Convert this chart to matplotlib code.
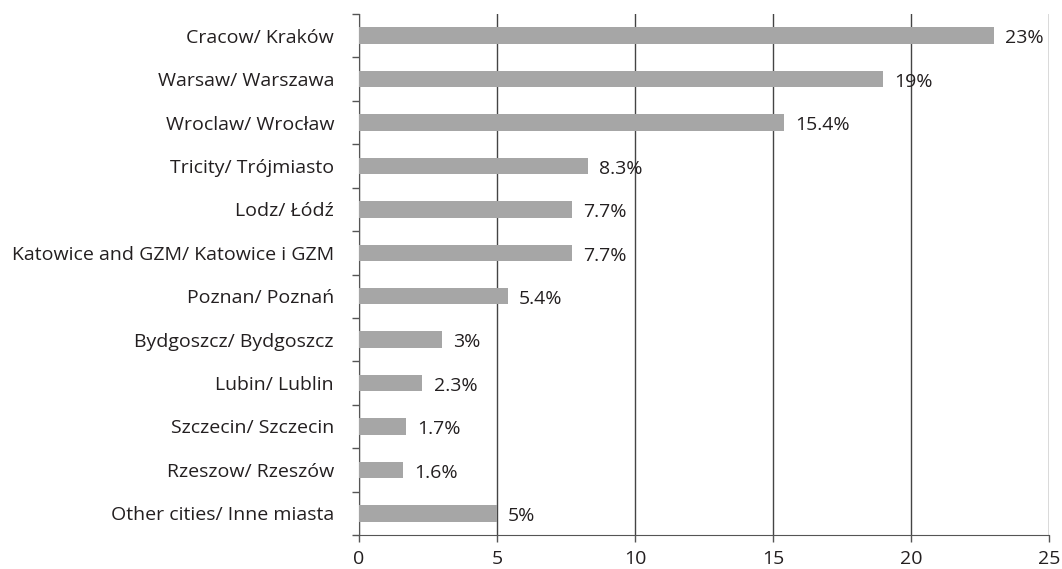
import matplotlib
matplotlib.use("Agg")
import matplotlib.pyplot as plt

categories = ["Cracow/ Kraków", "Warsaw/ Warszawa", "Wroclaw/ Wrocław", "Tricity/ Trójmiasto",
              "Lodz/ Łódź", "Katowice and GZM/ Katowice i GZM", "Poznan/ Poznań",
              "Bydgoszcz/ Bydgoszcz", "Lubin/ Lublin", "Szczecin/ Szczecin",
              "Rzeszow/ Rzeszów", "Other cities/ Inne miasta"]
values = [23, 19, 15.4, 8.3, 7.7, 7.7, 5.4, 3, 2.3, 1.7, 1.6, 5]
labels = ["23%", "19%", "15.4%", "8.3%", "7.7%", "7.7%", "5.4%", "3%", "2.3%", "1.7%", "1.6%", "5%"]
xticks = [0, 5, 10, 15, 20, 25]

plt.rcParams['font.family'] = ['Open Sans', 'DejaVu Sans']

fig = plt.figure(figsize=(10.62, 5.69), dpi=100)
ax = fig.add_axes([359/1062, 1 - 535/569, (1049-359)/1062, (535-14)/569])

fs = 14
n = len(categories)
ys = list(range(n))
ax.barh(ys, values, height=0.38, color="#a6a6a6", zorder=3)
ax.set_ylim(n - 0.5, -0.5)
ax.set_xlim(0, 25)
ax.set_xticks(xticks)
ax.set_yticks(ys)
ax.set_yticklabels(categories)
ax.set_yticks([i + 0.5 for i in range(-1, n)], minor=True)
ax.tick_params(axis='y', which='major', length=0, pad=18, labelsize=fs, colors="#231f20")
ax.tick_params(axis='y', which='minor', length=5, width=1, color="#555555", direction='out')
ax.tick_params(axis='x', length=5, width=1, color="#555555", labelsize=fs, labelcolor="#231f20", pad=6)
ax.grid(axis='x', color="#444444", linewidth=1, zorder=0)
for s in ["top", "right"]:
    ax.spines[s].set_visible(False)
ax.spines["left"].set_color("#555555")
ax.spines["bottom"].set_color("#555555")

for y, v, t in zip(ys, values, labels):
    ax.annotate(t, (v, y), xytext=(8, -2), textcoords="offset points",
                va="center", ha="left", fontsize=fs, color="#231f20", zorder=4)

fig.savefig("out.png", dpi=100)
